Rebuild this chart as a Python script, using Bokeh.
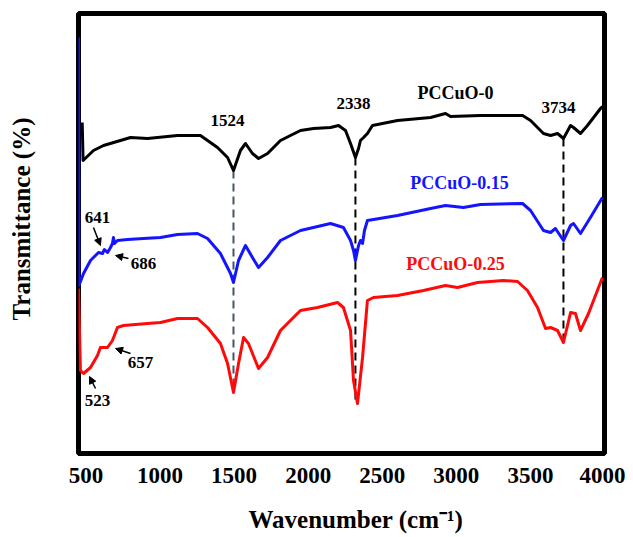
from bokeh.plotting import figure
from bokeh.models import (Range1d, FixedTicker, Label, Arrow, NormalHead, ColumnDataSource,
                          Title, LinearAxis)
from bokeh.embed import file_html
from bokeh.resources import INLINE

# ---------------- data ----------------
x_ticks = [500, 1000, 1500, 2000, 2500, 3000, 3500, 4000]

w_cuo0 = [475, 481, 551, 619, 801, 916, 1118, 1273, 1388, 1456, 1496, 1543, 1577, 1624,
          1665, 1726, 1813, 1948, 2036, 2151, 2205, 2252, 2286, 2319, 2340, 2353, 2374,
          2400, 2434, 2603, 2826, 2927, 2961, 3163, 3447, 3501, 3588, 3636, 3683, 3723,
          3771, 3791, 3838, 3885, 3973, 3986]
t_cuo0 = [66.2, 58.6, 60.6, 61.6, 63.2, 63.0, 63.6, 63.6, 61.2, 59.2, 56.6, 60.6, 62.0, 60.0,
          59.0, 60.0, 62.6, 64.6, 65.0, 65.2, 65.6, 64.6, 62.0, 59.2, 61.0, 62.6, 63.2,
          64.0, 65.6, 66.6, 67.2, 68.0, 67.4, 67.6, 67.6, 66.6, 64.0, 63.6, 64.0, 63.0,
          65.6, 65.2, 64.0, 65.6, 69.0, 69.4]

w_cuo15 = [450, 453, 484, 531, 551, 585, 612, 625, 646, 666, 679, 686, 693, 713, 781, 889,
           1003, 1118, 1253, 1321, 1408, 1476, 1496, 1530, 1577, 1624, 1665, 1726, 1813,
           1948, 2151, 2238, 2286, 2306, 2319, 2340, 2353, 2367, 2380, 2400, 2603, 2826,
           2927, 3048, 3163, 3447, 3501, 3588, 3636, 3669, 3723, 3771, 3791, 3838, 3905, 3986]
t_cuo15 = [83.2, 33.6, 36.0, 38.6, 39.2, 40.2, 40.0, 40.8, 40.2, 41.2, 42.0, 43.2, 42.0, 42.6,
           42.8, 43.0, 43.2, 43.8, 44.0, 43.0, 40.0, 36.0, 34.2, 38.6, 41.6, 39.2, 37.2, 39.2,
           42.6, 44.6, 46.0, 45.2, 42.6, 40.6, 38.6, 41.6, 42.6, 42.0, 44.6, 46.6, 47.6, 49.0,
           49.6, 49.2, 49.8, 50.0, 48.6, 44.6, 44.2, 45.0, 42.6, 45.6, 46.0, 44.0, 47.2, 51.2]

w_cuo25 = [450, 463, 484, 531, 578, 598, 646, 679, 713, 754, 916, 1003, 1118, 1253, 1321,
           1408, 1456, 1496, 1530, 1564, 1597, 1665, 1726, 1813, 1948, 2063, 2198, 2238,
           2286, 2306, 2333, 2367, 2400, 2441, 2603, 2778, 2927, 3008, 3143, 3318, 3413,
           3480, 3548, 3602, 3636, 3683, 3723, 3771, 3804, 3838, 3892, 3986]
t_cuo25 = [33.0, 16.6, 16.0, 17.2, 19.6, 21.2, 21.2, 22.6, 25.2, 25.6, 26.0, 26.2, 27.0, 27.0,
           25.2, 22.0, 18.0, 12.2, 18.0, 23.2, 22.0, 17.0, 19.2, 24.6, 28.6, 29.2, 30.2, 29.2,
           24.6, 14.6, 10.0, 19.2, 30.6, 31.2, 31.6, 32.6, 33.6, 33.2, 34.2, 34.6, 34.4,
           32.6, 29.2, 25.0, 25.2, 24.6, 22.2, 28.2, 28.0, 24.6, 28.0, 35.2]

series_names = ["PCCuO-0", "PCCuO-0.15", "PCCuO-0.25"]
series_colors = ["#000000", "#1414FF", "#FF0A0A"]

# peak marker lines
peak_labels = ["1524", "2338", "3734"]
peak_x = [1496, 2319, 3723]
peak_top = [56.6, 59.2, 63.0]
peak_bottom = [12.2, 10.0, 22.2]
peak_colors = ["#44546A", "#000000", "#000000"]
peak_label_x = [1456, 2306, 3690]
peak_label_y = [66.6, 70.0, 69.2]

series_label_x = [2994, 3021, 2994]
series_label_y = [72.2, 54.2, 38.0]

# small band annotations with arrows
band_labels = ["641", "686", "657", "523"]
band_label_x = [578, 889, 868, 578]
band_label_y = [47.2, 38.0, 18.2, 10.6]
arrow_x0 = [551, 787, 801, 565]
arrow_y0 = [45.2, 39.0, 20.0, 13.0]
arrow_x1 = [598, 700, 700, 524]
arrow_y1 = [41.6, 39.6, 21.0, 15.4]

x_title = "Wavenumber (cm\u207b\u00b9)"
y_title = "Transmittance (%)"

FONT = "Liberation Serif"

# ---------------- figure ----------------
p = figure(width=625, height=537, output_backend="svg", toolbar_location=None,
           x_range=Range1d(450, 4000), y_range=Range1d(0, 88),
           min_border_left=78, min_border_right=21, min_border_top=13, min_border_bottom=84)
p.title.visible = False
p.grid.visible = False
p.background_fill_color = "white"
p.border_fill_color = "white"
p.outline_line_color = "black"
p.outline_line_width = 5
p.outline_line_alpha = 1

ax = p.xaxis[0]
ax.ticker = FixedTicker(ticks=x_ticks)
ax.axis_line_color = None
ax.major_tick_line_color = None
ax.minor_tick_line_color = None
ax.major_tick_out = 0
ax.major_tick_in = 0
ax.major_label_standoff = 14
ax.major_label_text_font = FONT
ax.major_label_text_font_style = "bold"
ax.major_label_text_font_size = "23px"
ax.major_label_text_color = "black"

# y axis shows no numbers: one blank, invisible tick only reserves room before the title
ay = p.yaxis[0]
ay.ticker = FixedTicker(ticks=[44])
ay.major_label_overrides = {44: ""}
ay.major_label_text_font_size = "1px"
ay.axis_line_color = None
ay.minor_tick_line_color = None
ay.major_tick_line_color = "white"
ay.major_tick_line_alpha = 0.01
ay.major_tick_line_width = 1
ay.major_tick_out = 44
ay.major_tick_in = 0
ay.major_label_standoff = 0

# blank axis below the tick numbers, reserving room before the x title
spacer = LinearAxis(ticker=FixedTicker(ticks=[2200]), major_label_overrides={2200: ""},
                    major_label_text_font_size="1px", axis_line_color=None,
                    minor_tick_line_color=None, major_tick_line_color="white",
                    major_tick_line_alpha=0.01,
                    major_tick_line_width=1, major_tick_out=18, major_tick_in=0,
                    major_label_standoff=0)
p.add_layout(spacer, "below")

p.add_layout(Title(text=x_title, align="left", offset=170, standoff=0,
                   text_font=FONT, text_font_style="bold", text_font_size="25px",
                   text_color="black"), "below")
p.add_layout(Title(text=y_title, align="left", offset=133, standoff=0,
                   text_font=FONT, text_font_style="bold", text_font_size="25px",
                   text_color="black"), "left")

# dashed peak lines
src = ColumnDataSource(dict(x=peak_x, y0=peak_top, y1=peak_bottom, c=peak_colors))
p.segment(x0="x", y0="y0", x1="x", y1="y1", line_color="c", line_width=2,
          line_dash="8 5", source=src)

for xs, ys, col in zip([w_cuo0, w_cuo15, w_cuo25], [t_cuo0, t_cuo15, t_cuo25], series_colors):
    p.line(xs, ys, line_color=col, line_width=3, line_join="round")

def add_label(x, y, text, color="black", size="17px"):
    p.add_layout(Label(x=x, y=y, text=text, text_font=FONT, text_font_style="bold",
                       text_font_size=size, text_color=color, text_align="center",
                       text_baseline="middle"))

for x, y, t in zip(peak_label_x, peak_label_y, peak_labels):
    add_label(x, y, t)
for x, y, t, c in zip(series_label_x, series_label_y, series_names, series_colors):
    add_label(x, y, t, color=c, size="18px")
for x, y, t in zip(band_label_x, band_label_y, band_labels):
    add_label(x, y, t)
for xa, ya, xb, yb in zip(arrow_x0, arrow_y0, arrow_x1, arrow_y1):
    p.add_layout(Arrow(end=NormalHead(size=7, fill_color="black", line_color="black"),
                       x_start=xa, y_start=ya, x_end=xb, y_end=yb,
                       line_color="black", line_width=1.5))

open("out.html", "w").write(file_html(p, INLINE))
